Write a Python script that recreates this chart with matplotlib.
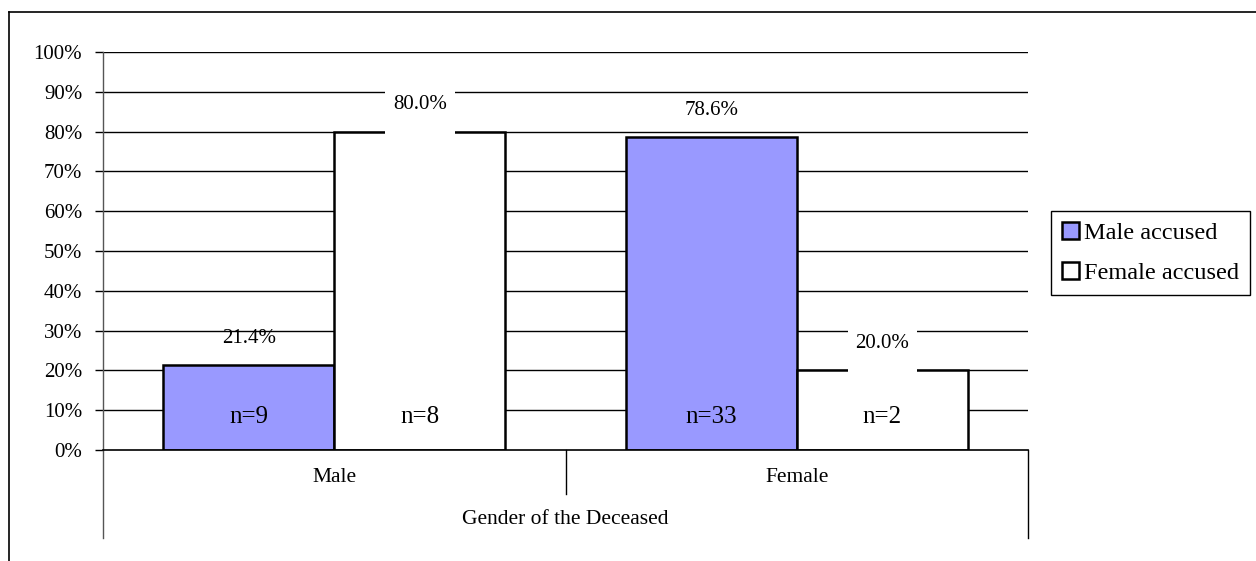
import matplotlib
matplotlib.use("Agg")
import matplotlib.pyplot as plt
from matplotlib.patches import Rectangle
from matplotlib.lines import Line2D

plt.rcParams['font.family'] = ['Liberation Serif', 'DejaVu Serif']

categories = ["Male", "Female"]
series_names = ["Male accused", "Female accused"]
male_accused = [21.4, 78.6]
female_accused = [80.0, 20.0]
male_n = [9, 33]
female_n = [8, 2]
x_title = "Gender of the Deceased"
y_ticks = list(range(0, 101, 10))

W, H = 1256, 561
fig = plt.figure(figsize=(W / 100, H / 100), dpi=100)

# plot area in pixel terms
left, right, top, bottom = 103, 1028, 52, 450
ax = fig.add_axes([left / W, 1 - bottom / H, (right - left) / W, (bottom - top) / H])

# outer chart frame (top and left edges)
fig.add_artist(Line2D([9 / W, 1.0], [1 - 12 / H, 1 - 12 / H], color="black", lw=1.2,
                      transform=fig.transFigure))
fig.add_artist(Line2D([9 / W, 9 / W], [1 - 12 / H, 0.0], color="black", lw=1.2,
                      transform=fig.transFigure))

bar_w = 0.37
xs = list(range(len(categories)))
colors = ["#9999FF", "white"]

ax.bar([x - bar_w / 2 for x in xs], male_accused, width=bar_w, color=colors[0],
       edgecolor="black", linewidth=1.8, zorder=3, label=series_names[0])
ax.bar([x + bar_w / 2 for x in xs], female_accused, width=bar_w, color=colors[1],
       edgecolor="black", linewidth=1.8, zorder=3, label=series_names[1])

ax.set_xlim(-0.5, len(categories) - 0.5)
ax.set_ylim(0, 100)

# horizontal gridlines
for t in y_ticks[1:]:
    ax.axhline(t, color="black", lw=1.0, zorder=1)

# value labels above each bar
for x, v in zip(xs, male_accused):
    ax.text(x - bar_w / 2, v + 6.7, f"{v:.1f}%", ha="center", va="center",
            fontsize=15, zorder=6)
for x, v in zip(xs, female_accused):
    ax.add_patch(Rectangle((x + bar_w / 2 - 0.075, v - 0.6), 0.15, 11.2,
                           facecolor="white", edgecolor="none", zorder=5))
    ax.text(x + bar_w / 2, v + 6.7, f"{v:.1f}%", ha="center", va="center",
            fontsize=15, zorder=6)

# counts inside bars
for x, n in zip(xs, male_n):
    ax.text(x - bar_w / 2, 8.3, f"n={n}", ha="center", va="center", fontsize=18, zorder=6)
for x, n in zip(xs, female_n):
    ax.text(x + bar_w / 2, 8.3, f"n={n}", ha="center", va="center", fontsize=18, zorder=6)

# axes styling
for s in ["top", "right"]:
    ax.spines[s].set_visible(False)
ax.spines["left"].set_color("#555555")
ax.spines["left"].set_linewidth(1.0)
ax.spines["bottom"].set_linewidth(1.2)
ax.spines["bottom"].set_zorder(4)
ax.set_yticks(y_ticks)
ax.set_yticklabels([f"{t}%" for t in y_ticks])
ax.tick_params(axis="y", length=6, width=1, pad=9, labelsize=15)
ax.set_xticks([])

# multi-level category axis
fr = 1 / (bottom - top)
for xd, depth in [(-0.5, 88), (0.5, 44), (len(categories) - 0.5, 88)]:
    ax.add_line(Line2D([xd, xd], [0, -depth * fr], transform=ax.get_xaxis_transform(),
                       color="black" if xd != -0.5 else "#555555", lw=1.0, clip_on=False))
for x, c in zip(xs, categories):
    ax.text(x, -27 * fr, c, transform=ax.get_xaxis_transform(), ha="center", va="center",
            fontsize=15.5)
ax.text(0.5, -70 * fr, x_title, transform=ax.transAxes, ha="center", va="center",
        fontsize=15.5)

leg = ax.legend(loc="upper left", bbox_to_anchor=(1051 / W, 1 - 211 / H),
                bbox_transform=fig.transFigure, borderaxespad=0, fancybox=False,
                edgecolor="black", framealpha=1, fontsize=17.5, handlelength=0.7,
                handleheight=0.7, handletextpad=0.2, labelspacing=0.75,
                borderpad=0.45)
leg.get_frame().set_linewidth(1.0)

fig.savefig("out.png", dpi=100)
